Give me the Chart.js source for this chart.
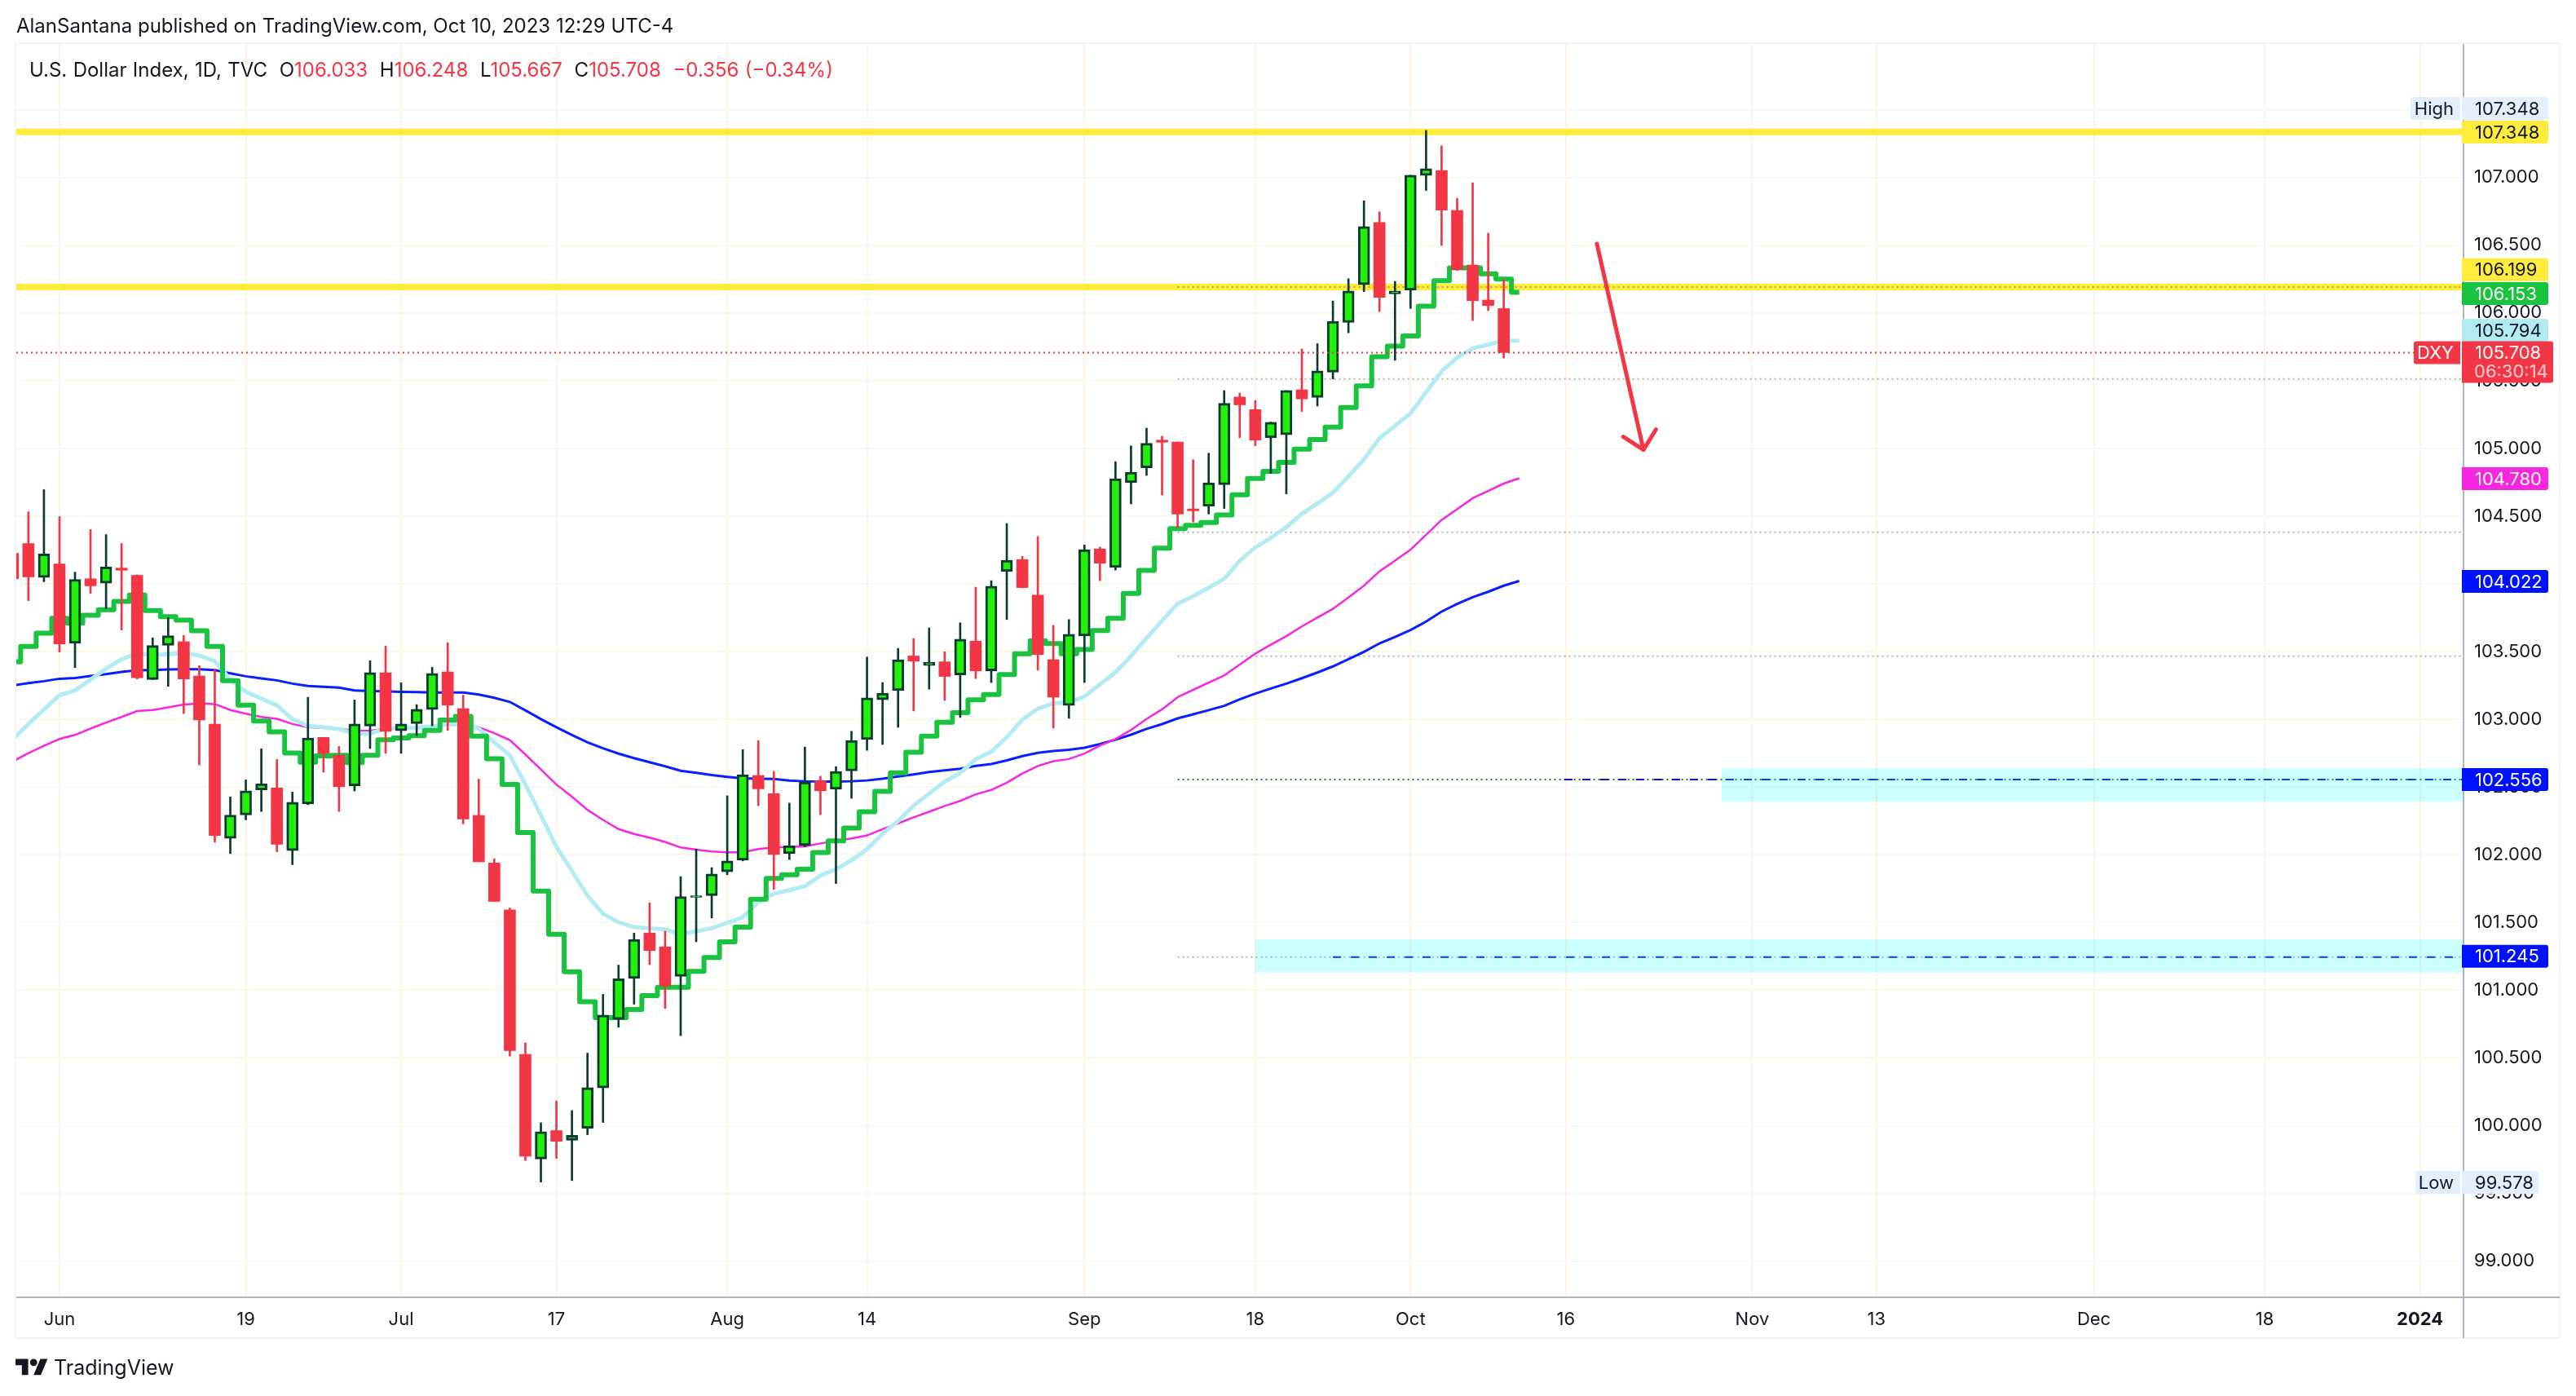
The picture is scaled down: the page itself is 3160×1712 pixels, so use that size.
<!DOCTYPE html>
<html>
<head>
<meta charset="utf-8">
<title>U.S. Dollar Index</title>
<script src="https://cdn.jsdelivr.net/npm/chart.js@4/dist/chart.umd.min.js"></script>
<style>
  html, body { margin: 0; padding: 0; background: #fff; overflow: hidden; }
  #wrap { position: relative; width: 3160px; height: 1712px; font-family: Inter, sans-serif; color: #131722; }
  #chart { position: absolute; left: 0; top: 0; }
  .line { position: absolute; white-space: pre; line-height: 30px; }
  #published { left: 20px; top: 17px; font-size: 24px; }
  #legend { left: 36px; top: 71px; font-size: 24px; word-spacing: 0.6px; }
  #legend b { font-weight: 400; color: #f23645; }
  #brand { left: 66px; top: 1659px; font-size: 25px; line-height: 36px; font-weight: 400; }
  #logo { position: absolute; left: 19px; top: 1662px; width: 40px; height: 31px; fill: #131722; }
</style>
</head>
<body>
<div id="wrap">
  <canvas id="chart" width="3160" height="1712"></canvas>
  <div class="line" id="published">AlanSantana published on TradingView.com, Oct 10, 2023 12:29 UTC-4</div>
  <div class="line" id="legend">U.S. Dollar Index, 1D, TVC  O<b>106.033</b>  H<b>106.248</b>  L<b>105.667</b>  C<b>105.708</b>  <b>−0.356 (−0.34%)</b></div>
  <svg id="logo" viewBox="0 0 36 28"><path d="M14 22H7V11H0V4h14v18zM28 22h-8l7.5-18h8L28 22z"/><circle cx="20" cy="8" r="4"/></svg>
  <div class="line" id="brand">TradingView</div>
</div>

<script>
// trading day number, 0 is Jun 1 2023, Oct 10 is 93
const barIndex = [];
for (let i = -3; i <= 93; i++) barIndex.push(i);
// the moving averages run one bar further
const maIndex = [...barIndex, 94];

const opens = [104.226,104.298,104.048,104.147,103.562,104.038,104.006,104.117,104.063,103.294,103.547,103.574,103.320,102.964,102.122,102.294,102.479,102.493,102.031,102.376,102.867,102.735,102.509,102.950,103.344,102.916,102.968,103.073,103.350,103.079,102.291,101.940,101.594,100.527,99.754,99.964,99.893,99.981,100.279,100.785,101.088,101.422,101.321,101.103,101.686,101.699,101.874,101.960,102.586,102.452,102.008,102.068,102.546,102.484,102.619,102.852,103.145,103.213,103.468,103.398,103.425,103.328,103.578,103.358,104.092,104.180,103.917,103.441,103.102,103.616,104.258,104.121,104.747,104.858,105.062,105.048,104.554,104.573,104.732,105.380,105.287,105.078,105.101,105.433,105.377,105.564,105.930,106.209,106.668,106.142,106.168,107.015,107.052,106.757,106.354,106.096,106.033];
const highs = [104.400,104.533,104.696,104.497,104.087,104.401,104.364,104.298,104.067,103.602,103.753,103.620,103.397,103.372,102.427,102.553,102.783,102.704,102.463,103.163,102.867,102.801,103.143,103.433,103.541,103.270,103.109,103.384,103.566,103.179,102.559,101.971,101.607,100.612,100.022,100.183,100.112,100.536,100.970,101.186,101.422,101.645,101.436,101.839,102.043,101.906,102.436,102.777,102.844,102.616,102.382,102.796,102.581,102.651,102.912,103.460,103.272,103.524,103.597,103.675,103.500,103.713,103.976,104.024,104.446,104.204,104.350,103.694,103.737,104.288,104.272,104.903,105.019,105.150,105.091,105.048,104.917,104.965,105.428,105.409,105.354,105.195,105.428,105.734,105.774,106.089,106.253,106.829,106.746,106.234,107.018,107.348,107.234,106.847,106.962,106.589,106.248];
const lows = [103.900,103.877,104.016,103.497,103.382,103.930,103.817,103.660,103.298,103.294,103.244,103.043,102.664,102.094,102.009,102.258,102.320,102.023,101.927,102.370,102.610,102.320,102.471,102.785,102.749,102.749,102.881,102.952,102.918,102.228,101.948,101.656,100.514,99.743,99.584,99.759,99.595,99.934,100.024,100.727,100.897,101.189,100.866,100.665,101.358,101.533,101.853,101.955,102.363,101.745,101.965,102.060,102.296,101.788,102.417,102.772,102.815,102.941,103.062,103.223,103.140,103.014,103.301,103.272,103.737,103.970,103.363,102.936,103.008,103.272,104.024,104.102,104.591,104.801,104.656,104.414,104.457,104.516,104.557,105.080,105.020,104.815,104.665,105.274,105.313,105.513,105.854,106.158,106.011,105.651,106.034,106.905,106.499,106.315,105.944,106.018,105.667];
const closes = [104.038,104.052,104.221,103.557,104.034,103.986,104.125,104.101,103.308,103.545,103.618,103.298,102.996,102.143,102.294,102.473,102.525,102.078,102.388,102.863,102.749,102.503,102.966,103.346,102.912,102.966,103.075,103.340,103.105,102.264,101.948,101.656,100.555,99.775,99.956,99.885,99.929,100.281,100.817,101.085,101.375,101.293,101.032,101.691,101.697,101.858,101.955,102.592,102.487,102.003,102.068,102.538,102.473,102.616,102.844,103.159,103.194,103.441,103.430,103.422,103.317,103.592,103.358,103.984,104.175,103.973,103.479,103.164,103.629,104.253,104.153,104.777,104.825,105.038,105.046,104.516,104.540,104.747,105.333,105.322,105.062,105.193,105.428,105.366,105.573,105.939,106.163,106.638,106.115,106.163,107.018,107.066,106.760,106.320,106.091,106.055,105.708];

const stepLine = [103.425,103.539,103.636,103.747,103.710,103.769,103.809,103.871,103.918,103.803,103.759,103.733,103.654,103.539,103.286,103.105,102.988,102.908,102.751,102.684,102.731,102.735,102.680,102.735,102.849,102.863,102.879,102.918,102.996,103.022,102.877,102.710,102.519,102.165,101.733,101.413,101.137,100.916,100.798,100.798,100.858,100.960,101.022,101.022,101.140,101.242,101.358,101.466,101.673,101.826,101.853,101.893,102.017,102.103,102.197,102.318,102.468,102.605,102.758,102.877,102.979,103.049,103.145,103.183,103.331,103.484,103.581,103.559,103.484,103.516,103.656,103.747,103.930,104.100,104.264,104.409,104.433,104.453,104.509,104.658,104.778,104.831,104.898,104.995,105.066,105.158,105.303,105.462,105.677,105.755,105.831,106.050,106.239,106.333,106.333,106.290,106.250,106.153];
const lightLine = [102.855,102.966,103.073,103.179,103.213,103.294,103.374,103.445,103.485,103.475,103.481,103.491,103.471,103.431,103.294,103.203,103.153,103.103,103.002,102.952,102.942,102.928,102.896,102.896,102.932,102.936,102.938,102.948,102.962,102.962,102.932,102.831,102.735,102.519,102.291,102.058,101.881,101.698,101.566,101.503,101.466,101.457,101.449,101.412,101.436,101.458,101.498,101.538,101.651,101.713,101.740,101.767,101.847,101.893,101.960,102.041,102.156,102.250,102.363,102.452,102.541,102.605,102.705,102.761,102.869,102.998,103.078,103.119,103.124,103.170,103.258,103.347,103.468,103.600,103.729,103.855,103.909,103.971,104.038,104.172,104.269,104.340,104.419,104.518,104.594,104.674,104.794,104.921,105.075,105.168,105.260,105.416,105.571,105.670,105.739,105.767,105.797,105.794];
const magentaLine = [102.690,102.751,102.805,102.855,102.885,102.932,102.976,103.018,103.061,103.069,103.089,103.109,103.117,103.113,103.069,103.042,103.018,103.004,102.966,102.942,102.936,102.932,102.916,102.916,102.932,102.936,102.936,102.948,102.958,102.966,102.942,102.898,102.847,102.741,102.630,102.519,102.429,102.332,102.258,102.190,102.154,102.127,102.095,102.054,102.038,102.025,102.019,102.019,102.043,102.054,102.057,102.062,102.084,102.103,102.121,102.143,102.189,102.232,102.277,102.318,102.361,102.398,102.447,102.479,102.533,102.600,102.656,102.691,102.707,102.748,102.807,102.855,102.922,103.003,103.074,103.164,103.218,103.272,103.324,103.405,103.485,103.551,103.615,103.686,103.752,103.816,103.900,103.987,104.093,104.172,104.253,104.363,104.472,104.552,104.633,104.686,104.741,104.780];
const blueLine = [103.250,103.268,103.282,103.300,103.306,103.320,103.334,103.350,103.362,103.364,103.368,103.370,103.370,103.364,103.340,103.318,103.302,103.288,103.264,103.246,103.240,103.234,103.213,103.209,103.207,103.203,103.201,103.199,103.199,103.199,103.183,103.159,103.129,103.067,103.002,102.942,102.885,102.831,102.787,102.747,102.714,102.684,102.654,102.621,102.605,102.589,102.576,102.565,102.562,102.560,102.549,102.543,102.541,102.541,102.543,102.549,102.562,102.578,102.594,102.611,102.624,102.635,102.656,102.670,102.697,102.729,102.753,102.766,102.775,102.791,102.818,102.850,102.887,102.930,102.965,103.007,103.037,103.068,103.100,103.148,103.190,103.228,103.264,103.304,103.346,103.391,103.445,103.499,103.561,103.609,103.660,103.722,103.796,103.852,103.902,103.942,103.987,104.022];

const xTickIndex = [0, 12, 22, 32, 43, 52, 66, 77, 87, 97, 109, 117, 131, 142, 152];
const xTickLabels = ["Jun", "19", "Jul", "17", "Aug", "14", "Sep", "18", "Oct", "16", "Nov", "13", "Dec", "18", "2024"];
const priceTicks = [99, 99.5, 100, 100.5, 101, 101.5, 102, 102.5, 103, 103.5, 104, 104.5, 105, 105.5, 106, 106.5, 107, 107.5];

const yellowLevels = [107.338, 106.192];
const grayLevels = [106.192, 105.513, 104.382, 103.467, 101.245];
const greenLevel = 102.556;
const lastClose = 105.708;
const support = [102.556, 101.245];
const zones = [[102.640, 102.393], [101.376, 101.131]];
const zoneStart = [107.04, 76.98];
const dashStart = [96.9, 82];
const levelStart = 72;
const xMin = -2.78;
const xMax = 154.75;
const yMin = 98.739;
const yMax = 107.986;

// hand drawn arrow, tail, tip and the two head ends
const arrowX = [99, 102, 100.7, 102, 102.8];
const arrowY = [106.511, 104.99, 105.087, 104.99, 105.14];

const RED = "#f23645";
const GREEN = "#20f00a";
const DARK = "#0b3b30";

function isUp(k) {
  return closes[k] >= opens[k];
}

function maData(values) {
  return maIndex.map((x, k) => ({ x: x, y: values[k] }));
}

function levelLine(y, from, color, width, dash, order) {
  return {
    type: "line",
    data: [{ x: from, y: y }, { x: xMax, y: y }],
    borderColor: color,
    borderWidth: width,
    borderDash: dash,
    pointRadius: 0,
    order: order
  };
}

const datasets = [];

yellowLevels.forEach(y => datasets.push(levelLine(y, xMin, "#ffeb3b", 8, [], 20)));
grayLevels.forEach(y => datasets.push(levelLine(y, levelStart, "rgba(110,113,124,0.55)", 2, [2, 4], 19)));
datasets.push(levelLine(greenLevel, levelStart, "#0f8a2e", 2, [2, 4], 18));
datasets.push(levelLine(support[0], dashStart[0], "#0011ff", 2, [10, 12], 17));
datasets.push(levelLine(support[1], dashStart[1], "#0011ff", 2, [10, 12], 17));

[[blueLine, "#0a1eff", 3, 12], [magentaLine, "#f727e0", 2.5, 11], [lightLine, "#b2ebf2", 5, 10]].forEach(s => {
  datasets.push({
    type: "line",
    data: maData(s[0]),
    borderColor: s[1],
    borderWidth: s[2],
    tension: 0,
    pointRadius: 0,
    order: s[3]
  });
});

datasets.push({
  type: "line",
  data: maData(stepLine),
  borderColor: "#19c23f",
  borderWidth: 6,
  stepped: "middle",
  borderJoinStyle: "round",
  pointRadius: 0,
  order: 9
});

// wicks
datasets.push({
  type: "bar",
  data: barIndex.map((x, k) => ({ x: x, y: [lows[k], highs[k]] })),
  backgroundColor: barIndex.map((x, k) => isUp(k) ? DARK : RED),
  grouped: false,
  barPercentage: 1,
  categoryPercentage: 1,
  maxBarThickness: 2,
  order: 3
});

// bodies
datasets.push({
  type: "bar",
  data: barIndex.map((x, k) => ({ x: x, y: [opens[k], closes[k]] })),
  backgroundColor: barIndex.map((x, k) => isUp(k) ? GREEN : RED),
  borderColor: barIndex.map((x, k) => isUp(k) ? DARK : RED),
  borderWidth: barIndex.map((x, k) => isUp(k) ? 3 : 0),
  borderSkipped: false,
  grouped: false,
  barPercentage: 1,
  categoryPercentage: 1,
  maxBarThickness: 14,
  order: 2
});

datasets.push(levelLine(lastClose, xMin, RED, 2, [2, 4], 1));

datasets.push({
  type: "line",
  data: arrowX.map((x, k) => ({ x: x, y: arrowY[k] })),
  borderColor: RED,
  borderWidth: 5,
  borderCapStyle: "round",
  borderJoinStyle: "round",
  pointRadius: 0,
  order: 0
});

// price tags on the axis, shift moves a tag off its own level like the stacked ones do
const priceTags = [
  { text: "107.348", value: 107.348, bg: "#e3effd", fg: "#131722", shift: -27, pill: "High", pillLeft: 2957 },
  { text: "107.348", value: 107.348, bg: "#ffeb3b", fg: "#131722", shift: 2 },
  { text: "106.199", value: 106.199, bg: "#ffeb3b", fg: "#131722", shift: -20 },
  { text: "106.153", value: 106.153, bg: "#19c23f", fg: "#ffffff", shift: 1.5 },
  { text: "105.794", value: 105.794, bg: "#b2ebf2", fg: "#131722", shift: -13 },
  { text: "104.780", value: 104.78, bg: "#f727e0", fg: "#ffffff", shift: 0.5 },
  { text: "104.022", value: 104.022, bg: "#0011ff", fg: "#ffffff", shift: 0.5 },
  { text: "102.556", value: 102.556, bg: "#0011ff", fg: "#ffffff", shift: 0 },
  { text: "101.245", value: 101.245, bg: "#0011ff", fg: "#ffffff", shift: -1 },
  { text: "99.578", value: 99.578, bg: "#e3effd", fg: "#131722", shift: -0.5, pill: "Low", pillLeft: 2963, right: 3114 }
];

const zonePlugin = {
  id: "zones",
  afterDatasetsDraw(chart) {
    const { ctx, scales: { x, y }, chartArea } = chart;
    ctx.save();
    ctx.fillStyle = "rgba(0,255,255,0.2)";
    zones.forEach((z, k) => {
      const left = x.getPixelForValue(zoneStart[k]);
      ctx.fillRect(left, y.getPixelForValue(z[0]), chartArea.right - left, y.getPixelForValue(z[1]) - y.getPixelForValue(z[0]));
    });
    ctx.restore();
  }
};

const framePlugin = {
  id: "frame",
  afterDraw(chart) {
    const { ctx, scales: { y }, chartArea } = chart;
    const bottom = 1641;
    const outerRight = 3140;
    ctx.save();

    ctx.strokeStyle = "#f0f3fa";
    ctx.lineWidth = 2;
    ctx.strokeRect(chartArea.left - 1, chartArea.top - 1, outerRight - chartArea.left + 1, bottom - chartArea.top + 1);

    ctx.strokeStyle = "#b2b5be";
    ctx.lineWidth = 2;
    ctx.beginPath();
    ctx.moveTo(chartArea.right + 1, chartArea.top);
    ctx.lineTo(chartArea.right + 1, bottom);
    ctx.moveTo(chartArea.left, chartArea.bottom + 1);
    ctx.lineTo(outerRight, chartArea.bottom + 1);
    ctx.stroke();

    ctx.font = "22px Inter, sans-serif";
    ctx.textBaseline = "middle";

    priceTags.forEach(tag => {
      const mid = y.getPixelForValue(tag.value) + tag.shift;
      ctx.fillStyle = tag.bg;
      ctx.beginPath();
      ctx.roundRect(3020, mid - 14, (tag.right || 3126) - 3020, 28, [0, 3, 3, 0]);
      ctx.fill();
      ctx.fillStyle = tag.fg;
      ctx.textAlign = "left";
      ctx.fillText(tag.text, 3036, mid + 1);
      if (tag.pill) {
        ctx.fillStyle = tag.bg;
        ctx.beginPath();
        ctx.roundRect(tag.pillLeft, mid - 14, 3018 - tag.pillLeft, 28, [3, 0, 0, 3]);
        ctx.fill();
        ctx.fillStyle = tag.fg;
        ctx.textAlign = "right";
        ctx.fillText(tag.pill, 3010, mid + 1);
      }
    });

    // last price tag with the countdown under it
    const mid = y.getPixelForValue(lastClose);
    ctx.fillStyle = RED;
    ctx.beginPath();
    ctx.roundRect(3020, mid - 14, 112, 51, [0, 3, 3, 0]);
    ctx.fill();
    ctx.beginPath();
    ctx.roundRect(2961, mid - 14, 57, 28, [3, 0, 0, 3]);
    ctx.fill();
    ctx.fillStyle = "#ffffff";
    ctx.textAlign = "left";
    ctx.fillText("105.708", 3036, mid + 1);
    ctx.textAlign = "right";
    ctx.fillText("DXY", 3010, mid + 1);
    ctx.textAlign = "left";
    ctx.fillStyle = "rgba(255,255,255,0.75)";
    ctx.fillText("06:30:14", 3035, mid + 24);

    ctx.restore();
  }
};

new Chart(document.getElementById("chart"), {
  data: { datasets: datasets },
  plugins: [zonePlugin, framePlugin],
  options: {
    responsive: false,
    animation: false,
    devicePixelRatio: 1,
    layout: { padding: { left: 20, top: 54, right: 20, bottom: 71 } },
    plugins: { legend: { display: false }, tooltip: { enabled: false } },
    scales: {
      x: {
        type: "linear",
        offset: false,
        min: xMin,
        max: xMax,
        afterBuildTicks: scale => { scale.ticks = xTickIndex.map(v => ({ value: v })); },
        afterFit: scale => { scale.height = 51; },
        grid: { offset: false, color: "#fff3e3", lineWidth: 2, drawTicks: false },
        border: { display: false },
        ticks: {
          autoSkip: false,
          maxRotation: 0,
          padding: 15,
          color: "#131722",
          callback: value => xTickLabels[xTickIndex.indexOf(value)],
          font: ctx => ctx.tick && ctx.tick.label === "2024"
            ? { family: "Inter", size: 22, weight: "bold" }
            : { family: "Inter", size: 22 }
        }
      },
      y: {
        position: "right",
        min: yMin,
        max: yMax,
        afterBuildTicks: scale => { scale.ticks = priceTicks.map(v => ({ value: v })); },
        afterFit: scale => { scale.width = 119; },
        grid: { color: "#f6fbe9", lineWidth: 2, drawTicks: false },
        border: { display: false },
        ticks: {
          padding: 14,
          color: "#131722",
          font: { family: "Inter", size: 22 },
          callback: value => value.toFixed(3)
        }
      }
    }
  }
});
</script>
</body>
</html>
